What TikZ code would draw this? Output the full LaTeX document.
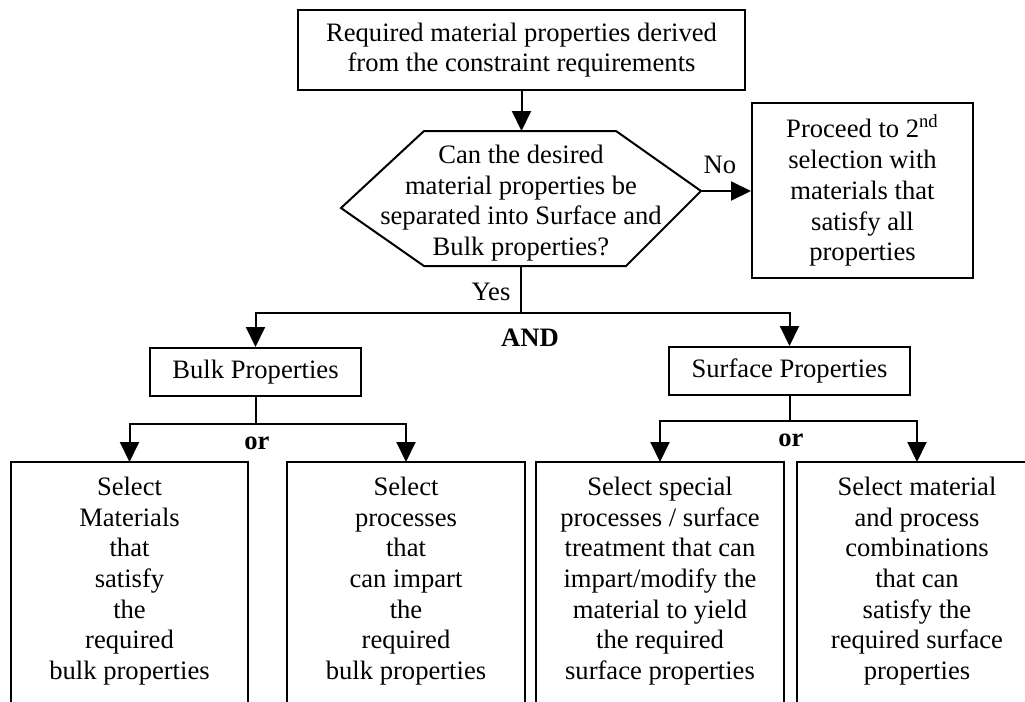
\documentclass[tikz,border=0pt]{standalone}
\usepackage{fontspec}
\setmainfont{Liberation Serif}
\usepackage{tikz}
\usetikzlibrary{arrows.meta}
\tikzstyle{block}=[rectangle,draw=black,align=center,inner sep=0mm]
\tikzstyle{choice}=[rectangle,align=center,inner sep=0mm,anchor=north,minimum height=118pt]
\tikzstyle{arrow}=[-{Triangle[length=10pt,width=9.5pt]}]
\tikzset{every picture/.style={
    line width=1pt
  }
}

\begin{document}
\begin{tikzpicture}[x=0.5pt,y=-0.5pt,font=\fontsize{13.3}{15.35}\selectfont]
          \useasboundingbox (0,0) rectangle (1025,702);
          \clip (0,0) rectangle (1025,702);
          \node[block,minimum width=223.5pt,minimum height=40pt] (req) at (521.5,50) {Required material properties derived\\from the constraint requirements};
          \node[align=center,inner sep=0mm,minimum width=179pt,minimum height=66.5pt] (quest) at (521,203) {Can the desired\\material properties be\\separated into Surface and\\Bulk properties?};
          \node[block,minimum width=110.5pt,minimum height=87.5pt] (proceed) at (862.5,190.5) {Proceed to 2\textsuperscript{nd}\\selection with\\materials that\\satisfy all\\properties};
          \node[block,minimum width=105.5pt,minimum height=24pt] (bulk) at (255.5,372) {Bulk Properties};
          \node[block,minimum width=120.5pt,minimum height=24pt] (surf) at (789.5,371) {Surface Properties};
          \node[choice,minimum width=117.5pt] (selmat) at (129.5,462) {Select\\Materials\\that\\satisfy\\the\\required\\bulk properties};
          \node[choice,minimum width=118pt] (selproc) at (406,462) {Select\\processes\\that\\can impart\\the\\required\\bulk properties};
          \node[choice,minimum width=123pt] (selspec) at (660,462) {Select special\\processes / surface\\treatment that can\\impart/modify the\\material to yield\\the required\\surface properties};
          \node[choice,minimum width=119pt] (selcomb) at (917,462) {Select material\\and process\\combinations\\that can\\satisfy the\\required surface\\properties};
          % the four lower boxes run past the bottom edge
          \foreach \n in {selmat,selproc,selspec,selcomb}
            \draw (\n.north west) rectangle ([yshift=-12pt]\n.south east);
          % hexagon round the question, text sits a little low in it
          \coordinate (qtop) at ([yshift=2.25pt]quest.north);
          \coordinate (qbot) at ([yshift=2.25pt]quest.south);
          \coordinate (qright) at ([yshift=6pt]quest.east);
          \coordinate (qleft) at ([yshift=-2.5pt]quest.west);
          \draw ([xshift=41.5pt,yshift=2.25pt]quest.north west) -- ([xshift=-42.5pt,yshift=2.25pt]quest.north east) -- (qright)
            -- ([xshift=-37.5pt,yshift=2.25pt]quest.south east) -- ([xshift=41.5pt,yshift=2.25pt]quest.south west) -- (qleft) -- cycle;
          \node (yes) at (491,292) {Yes};
          \node (and) at (530,338) {\textbf{AND}};
          \node (no) at (720,165) {No};
          \node (bor) at (257,443) {\textbf{or}};
          \node (sor) at (791,440) {\textbf{or}};
          \draw [arrow] (req.south) -- (req.south |- qtop);
          \draw [arrow] (qright) -- (qright -| proceed.west);
          \draw (qbot) -- ++(0,47) coordinate (ysplit);
          \draw [arrow] (ysplit) -| (bulk.north);
          \draw [arrow] (ysplit) -| (surf.north);
          \draw (bulk.south) -- ++(0,27) coordinate (bsplit);
          \draw [arrow] (bsplit) -| (selmat.north);
          \draw [arrow] (bsplit) -| (selproc.north);
          \draw (surf.south) -- ++(0,25) coordinate (ssplit);
          \draw [arrow] (ssplit) -| (selspec.north);
          \draw [arrow] (ssplit) -| (selcomb.north);
        \end{tikzpicture}
\end{document}
